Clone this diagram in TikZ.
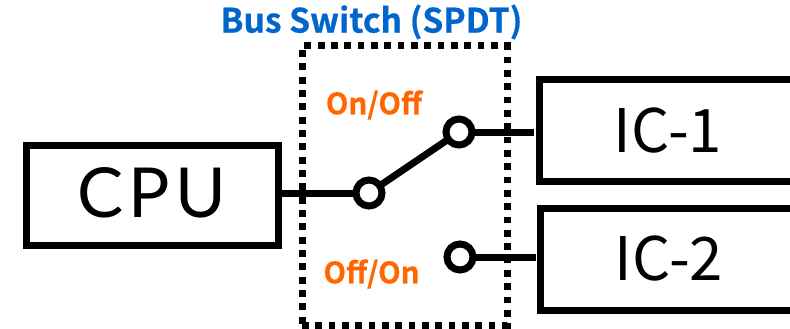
\documentclass[tikz,border=0pt]{standalone}
\usepackage{fontspec}
\setmainfont{Noto Sans CJK JP}[BoldFont={Noto Sans CJK JP Bold},BoldFeatures={FakeBold=0.6}]
\newfontfamily\cpufont{Lato}
\usepackage{tikz}
\usetikzlibrary{positioning}
\definecolor{busblue}{HTML}{0066CC}
\definecolor{stateorange}{HTML}{FF6600}
\tikzset{
  blockbox/.style={draw,line width=7pt,outer sep=0pt,inner sep=0pt,font=\fontsize{60}{60}\selectfont},
  contact/.style={draw,circle,line width=7pt,fill=white,minimum size=26pt,inner sep=0pt,outer sep=0pt},
  wire/.style={line width=7pt},
  statelabel/.style={text=stateorange,font=\bfseries\fontsize{29.4}{29.4}\selectfont,inner sep=0pt},
}
\begin{document}
\begin{tikzpicture}[x=1pt,y=-1pt]
\useasboundingbox (0,0) rectangle (790,329);
\node[blockbox,minimum width=252pt,minimum height=100pt] (cpu) at (152,195) {};
\node[font=\cpufont\addfontfeature{LetterSpace=8}\fontsize{69}{69}\selectfont,inner sep=0pt] (cputext) at (152,192.5) {CPU};
\node[blockbox,minimum width=258pt,minimum height=101pt] (ic1) at (668,130.5) {IC-1};
\node[blockbox,minimum width=258pt,minimum height=102pt] (ic2) at (669,259) {IC-2};
\node[draw,line width=7pt,dash pattern=on 6.8pt off 6.53pt,minimum width=205pt,minimum height=279pt,inner sep=0pt,outer sep=0pt] (bus) at (404.5,185.5) {};
\node[text=busblue,font=\bfseries\fontsize{33.6}{33.6}\selectfont,inner sep=0pt] (title) at (371.5,22) {Bus Switch (SPDT)};
\node[statelabel] (onoff) at (374,105) {On/Off};
\node[statelabel] (offon) at (371.5,274) {Off/On};
\node[contact] (com) at (369,193) {};
\node[contact] (no) at (459,132) {};
\node[contact] (nc) at (460,257) {};
\draw[wire] (cpu.east |- com) -- (com);
\draw[wire] (com) -- (no);
\draw[wire,shorten >=5pt] (no) -- (ic1.west |- no);
\draw[wire,shorten >=4pt] (nc) -- (ic2.west |- nc);
\end{tikzpicture}
\end{document}
